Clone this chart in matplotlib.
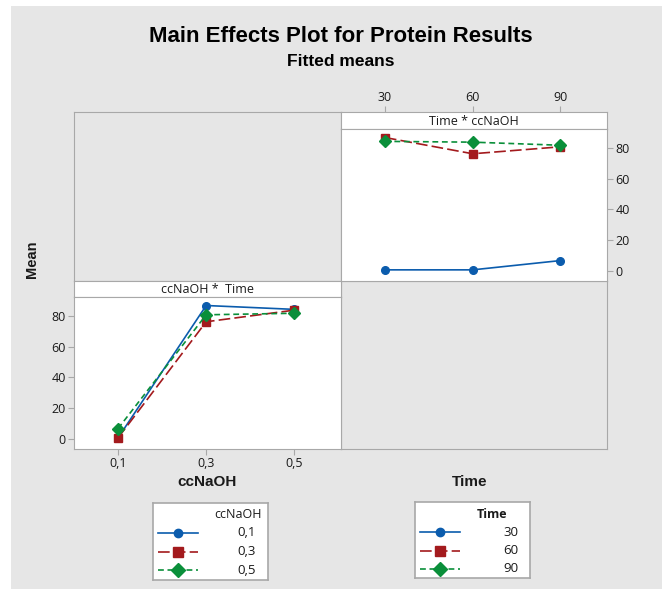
import matplotlib.pyplot as plt
from matplotlib.patches import Rectangle
from matplotlib.lines import Line2D

# cell means: rows = ccNaOH level, cols = Time level
naoh_levels = ["0,1", "0,3", "0,5"]
time_levels = ["30", "60", "90"]
mean_naoh_01 = [1, 1, 7]
mean_naoh_03 = [86.5, 76, 80.5]
mean_naoh_05 = [84, 83.5, 81.5]
y_ticks = [0, 20, 40, 60, 80]

colors = ["#0b5cad", "#a31a1d", "#0a8f3a"]
markers = ["o", "s", "D"]
msizes = [5.5, 6.0, 6.5]
dashes = [None, (7, 2.5), (3.5, 2.2)]

W, H = 662, 589
GREY = "#e6e6e6"
EDGE = "#a8a8a8"
TXT = "#1a1a1a"
ARIAL = ["Liberation Sans", "DejaVu Sans"]
plt.rcParams["font.family"] = ["Open Sans", "DejaVu Sans"]
XLIM = (-0.5, 2.53)


def box(x0, y0, x1, y1):
    # pixel box (top-left origin) -> figure fraction
    return [x0 / W, 1 - y1 / H, (x1 - x0) / W, (y1 - y0) / H]


fig = plt.figure(figsize=(W / 100, H / 100), dpi=100, facecolor="white")
fig.patches.append(Rectangle((11 / W, 0), 1, 1 - 6 / H, transform=fig.transFigure,
                             facecolor=GREY, edgecolor="none", zorder=-10))

fig.text(341 / W, 1 - 36 / H, "Main Effects Plot for Protein Results",
         ha="center", va="center", fontsize=16, fontweight="bold",
         family=ARIAL, color="black")
fig.text(341 / W, 1 - 62 / H, "Fitted means", ha="center", va="center",
         fontsize=12.5, fontweight="bold", family=ARIAL, color="black")

# empty panels
for b in [box(74, 112, 341, 281), box(341, 281, 607, 449)]:
    ea = fig.add_axes(b, facecolor=GREY)
    ea.set_xticks([])
    ea.set_yticks([])
    for s in ea.spines.values():
        s.set_color(EDGE)

tick_kw = dict(colors=EDGE, labelcolor=TXT, labelsize=9, length=4, width=0.8, pad=2)


def strip(b, label, xticklabels=None):
    sa = fig.add_axes(b, facecolor="white")
    sa.set_yticks([])
    sa.set_xlim(*XLIM)
    if xticklabels:
        sa.set_xticks(range(len(xticklabels)), xticklabels)
        sa.xaxis.tick_top()
        sa.tick_params(**tick_kw)
    else:
        sa.set_xticks([])
    for s in sa.spines.values():
        s.set_color(EDGE)
    sa.text(0.5, 0.45, label, ha="center", va="center", fontsize=9, color=TXT,
            transform=sa.transAxes)


strip(box(341, 112, 607, 129), "Time * ccNaOH", time_levels)
strip(box(74, 281, 341, 297), "ccNaOH *  Time")

by_naoh = [mean_naoh_01, mean_naoh_03, mean_naoh_05]
by_time = [[row[j] for row in by_naoh] for j in range(3)]


def panel(b, series, xlabels, top_right):
    ax = fig.add_axes(b, facecolor="white")
    pos = list(range(len(xlabels)))
    for i, ys in enumerate(series):
        ln, = ax.plot(pos, ys, color=colors[i], marker=markers[i], markersize=msizes[i],
                      lw=1.2)
        if dashes[i]:
            ln.set_dashes(dashes[i])
    ax.set_xlim(*XLIM)
    ax.set_ylim(-6.2, 92)
    ax.set_yticks(y_ticks)
    for s in ax.spines.values():
        s.set_color(EDGE)
    ax.tick_params(**tick_kw)
    if top_right:
        ax.set_xticks([])
        ax.yaxis.tick_right()
    else:
        ax.set_xticks(pos, xlabels)
    return ax


panel(box(341, 129, 607, 281), by_naoh, time_levels, True)
panel(box(74, 297, 341, 449), by_time, naoh_levels, False)

fig.text(32 / W, 1 - 259 / H, "Mean", rotation=90, ha="center", va="center",
         fontsize=10.5, fontweight="bold", family=ARIAL, color=TXT)
fig.text(207 / W, 1 - 482 / H, "ccNaOH", ha="center", va="center",
         fontsize=11, fontweight="bold", family=ARIAL, color=TXT)
fig.text(470 / W, 1 - 482 / H, "Time", ha="center", va="center",
         fontsize=11, fontweight="bold", family=ARIAL, color=TXT)


def legend_box(x0, y0, x1, y1, title, labels, title_x):
    la = fig.add_axes(box(x0, y0, x1, y1), facecolor="white")
    la.set_xlim(0, x1 - x0)
    la.set_ylim(y1 - y0, 0)
    la.set_xticks([])
    la.set_yticks([])
    for s in la.spines.values():
        s.set_color(EDGE)
        s.set_linewidth(1.2)
    la.text(title_x, 12, title, ha="center", va="center", fontsize=9,
            fontweight="bold" if title == "Time" else "normal", color=TXT)
    for i, lab in enumerate(labels):
        yy = 30 + i * 18.5
        ln = Line2D([5, 45], [yy, yy], color=colors[i], lw=1.2)
        if dashes[i]:
            ln.set_dashes(dashes[i])
        la.add_line(ln)
        la.plot([25], [yy], marker=markers[i], color=colors[i], markersize=msizes[i] + 0.5)
        la.text(103, yy, lab, ha="right", va="center", fontsize=9.5, color=TXT)


legend_box(153, 503, 268, 580, "ccNaOH", naoh_levels, 85)
legend_box(415, 502, 530, 578, "Time", time_levels, 77)

fig.savefig("out.png", dpi=100, facecolor="white")
